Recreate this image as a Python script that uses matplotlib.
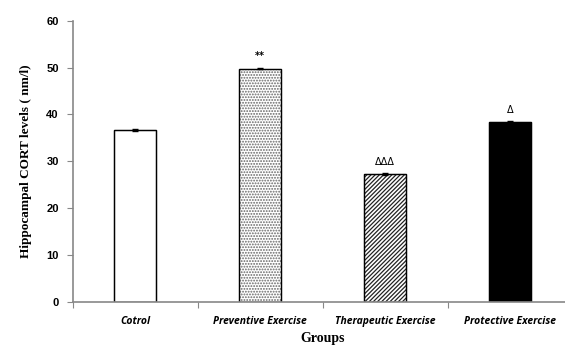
import matplotlib
matplotlib.use("Agg")
import matplotlib.pyplot as plt
import numpy as np

groups = ["Cotrol", "Preventive Exercise", "Therapeutic Exercise", "Protective Exercise"]
cort = [36.6, 49.8, 27.2, 38.3]
err = [0.2, 0.2, 0.2, 0.2]
marks = ["", "**", "\u0394\u0394\u0394", "\u0394"]

plt.rcParams['hatch.linewidth'] = 0.9

fig = plt.figure(figsize=(5.65, 3.49), dpi=100)
ax = fig.add_axes([0.1287, 0.1355, 0.885, 0.805])

x = np.arange(len(groups)) + 0.5
fills = ['white', 'white', 'white', 'black']
hatches = [None, '......', '////////', None]
hatch_cols = ['black', '#666666', '#222222', 'black']

for i in range(len(groups)):
    ax.bar(x[i], cort[i], width=0.34, color=fills[i], edgecolor=hatch_cols[i],
           hatch=hatches[i], linewidth=0.8)
    # outline in black on top of hatch colour
    ax.bar(x[i], cort[i], width=0.34, color='none', edgecolor='black', linewidth=1.0)
ax.errorbar(x, cort, yerr=err, fmt='none', ecolor='black', capsize=2, elinewidth=0.8)

for i, m in enumerate(marks):
    if m:
        ax.text(x[i], cort[i] + 1.6, m, ha='center', va='bottom', fontsize=7,
                family='DejaVu Sans', fontweight='bold' if m == "**" else 'normal')

ax.set_xlim(0, 4)
ax.set_ylim(0, 60)
ax.set_yticks(range(0, 61, 10))
ax.set_xticks(range(0, 5))
ax.set_xticklabels([])
ax.set_xticks(x, minor=True)
ax.set_xticklabels(groups, minor=True, fontsize=7.5, fontweight='bold', style='italic',
                   family='Open Sans')
ax.tick_params(axis='x', which='minor', length=0, pad=10)
ax.tick_params(axis='x', which='major', length=4, direction='out', color='#888888')
ax.tick_params(axis='y', length=4, direction='out', color='#888888', labelsize=8, pad=6)
for lab in ax.get_yticklabels():
    lab.set_fontweight('bold')
    lab.set_family('Liberation Sans')

for s in ['top', 'right']:
    ax.spines[s].set_visible(False)
for s in ['left', 'bottom']:
    ax.spines[s].set_color('#888888')
    ax.spines[s].set_linewidth(1.2)

ax.set_ylabel('Hippocampal CORT levels ( nm/l)', family='Liberation Serif',
              fontweight='bold', fontsize=9.5, labelpad=10)
ax.set_xlabel('Groups', family='Liberation Serif', fontweight='bold', fontsize=10,
              labelpad=4)

plt.savefig("out.png", dpi=100)
